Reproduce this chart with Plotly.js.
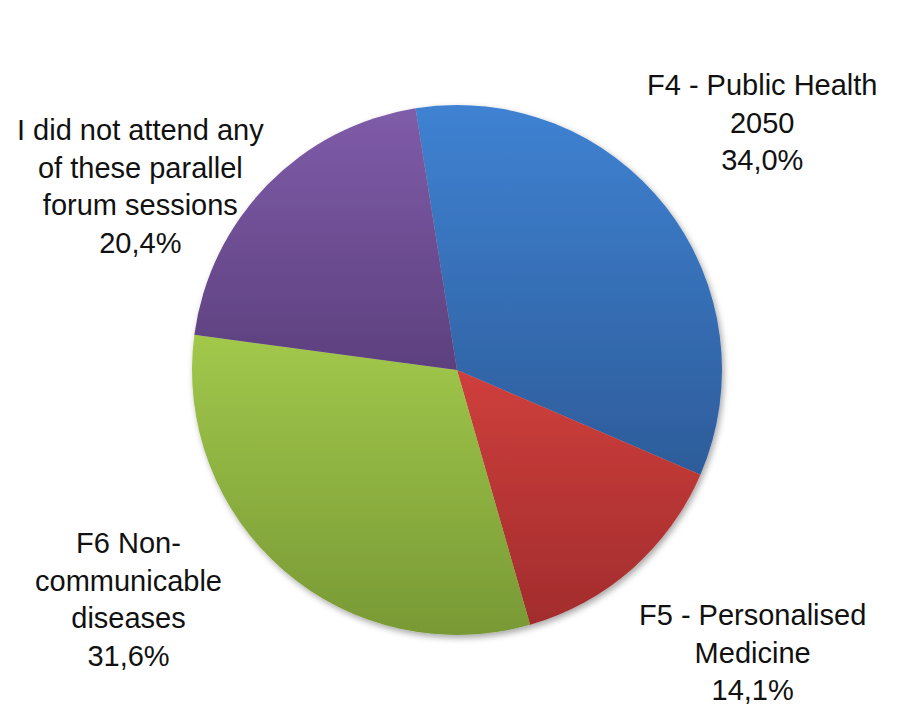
<!DOCTYPE html>
<html>
<head>
<meta charset="utf-8">
<script src="https://cdn.plot.ly/plotly-3.0.1.min.js"></script>
<style>
  html, body { margin: 0; padding: 0; background: #ffffff; }
  #chart { width: 898px; height: 715px; }
</style>
</head>
<body>
<div id="chart"></div>
<script>
// ---- data ----
var labels = [
  'F4 - Public Health 2050',
  'F5 - Personalised Medicine',
  'F6 Non-communicable diseases',
  'I did not attend any of these parallel forum sessions'
];
var labelLines = [
  'F4 - Public Health<br>2050',
  'F5 - Personalised<br>Medicine',
  'F6 Non-<br>communicable<br>diseases',
  'I did not attend any<br>of these parallel<br>forum sessions'
];
var values = [34.0, 14.1, 31.6, 20.4];

// ---- style ----
var topColors    = ['#3f82d2', '#cf3f3c', '#a2c84b', '#7f5ca9'];
var bottomColors = ['#2d5c9a', '#a22c2d', '#789935', '#5d407e'];
var midColors    = ['#366fb6', '#b93535', '#8db040', '#6e4e94'];
var labelPos = [
  {x: 762, y: 122},
  {x: 752, y: 652},
  {x: 128, y: 599},
  {x: 140, y: 186}
];
var W = 898, H = 715;

var total = values.reduce(function (a, b) { return a + b; }, 0);
function pct(v) { return (v / total * 100).toFixed(1).replace('.', ',') + '%'; }

var annotations = labels.map(function (l, i) {
  return {
    text: labelLines[i] + '<br>' + pct(values[i]),
    x: labelPos[i].x / W, y: 1 - labelPos[i].y / H,
    xref: 'paper', yref: 'paper',
    xanchor: 'center', yanchor: 'middle',
    showarrow: false, align: 'center',
    font: {family: 'Liberation Sans, Arial, sans-serif', size: 29, color: '#111111'}
  };
});

var trace = {
  type: 'pie',
  labels: labels,
  values: values,
  sort: false,
  direction: 'clockwise',
  rotation: -9,
  marker: {colors: midColors, line: {width: 0}},
  textinfo: 'none',
  hoverinfo: 'label+percent',
  showlegend: false,
  domain: {x: [192 / W, 722 / W], y: [1 - 635 / H, 1 - 105 / H]}
};

var layout = {
  width: W, height: H,
  margin: {l: 0, r: 0, t: 0, b: 0},
  paper_bgcolor: '#ffffff',
  separators: ',.',
  showlegend: false,
  annotations: annotations
};

Plotly.newPlot('chart', [trace], layout, {staticPlot: true}).then(function (gd) {
  var svgNS = 'http://www.w3.org/2000/svg';
  var svg = gd.querySelector('svg.main-svg');
  var defs = svg.querySelector('defs');
  if (!defs) { defs = document.createElementNS(svgNS, 'defs'); svg.insertBefore(defs, svg.firstChild); }
  topColors.forEach(function (c, i) {
    var g = document.createElementNS(svgNS, 'linearGradient');
    g.setAttribute('id', 'sliceGrad' + i);
    g.setAttribute('x1', '0'); g.setAttribute('y1', '0');
    g.setAttribute('x2', '0'); g.setAttribute('y2', '1');
    var s1 = document.createElementNS(svgNS, 'stop');
    s1.setAttribute('offset', '0'); s1.setAttribute('stop-color', c);
    var s2 = document.createElementNS(svgNS, 'stop');
    s2.setAttribute('offset', '1'); s2.setAttribute('stop-color', bottomColors[i]);
    g.appendChild(s1); g.appendChild(s2);
    defs.appendChild(g);
  });
  var f = document.createElementNS(svgNS, 'filter');
  f.setAttribute('id', 'pieShadow');
  f.setAttribute('x', '-10%'); f.setAttribute('y', '-10%');
  f.setAttribute('width', '120%'); f.setAttribute('height', '120%');
  var ds = document.createElementNS(svgNS, 'feDropShadow');
  ds.setAttribute('dx', '2'); ds.setAttribute('dy', '3');
  ds.setAttribute('stdDeviation', '3');
  ds.setAttribute('flood-color', '#000000');
  ds.setAttribute('flood-opacity', '0.35');
  f.appendChild(ds);
  defs.appendChild(f);

  var slices = gd.querySelectorAll('g.slice');
  slices.forEach(function (s, k) {
    var d = s.__data__;
    var idx = (d && typeof d.i === 'number') ? d.i : k;
    var p = s.querySelector('path.surface');
    if (p) p.style.fill = 'url("#sliceGrad' + idx + '")';
  });
  var tr = gd.querySelector('g.pielayer g.trace');
  if (tr) tr.setAttribute('filter', 'url(#pieShadow)');
});
</script>
</body>
</html>
